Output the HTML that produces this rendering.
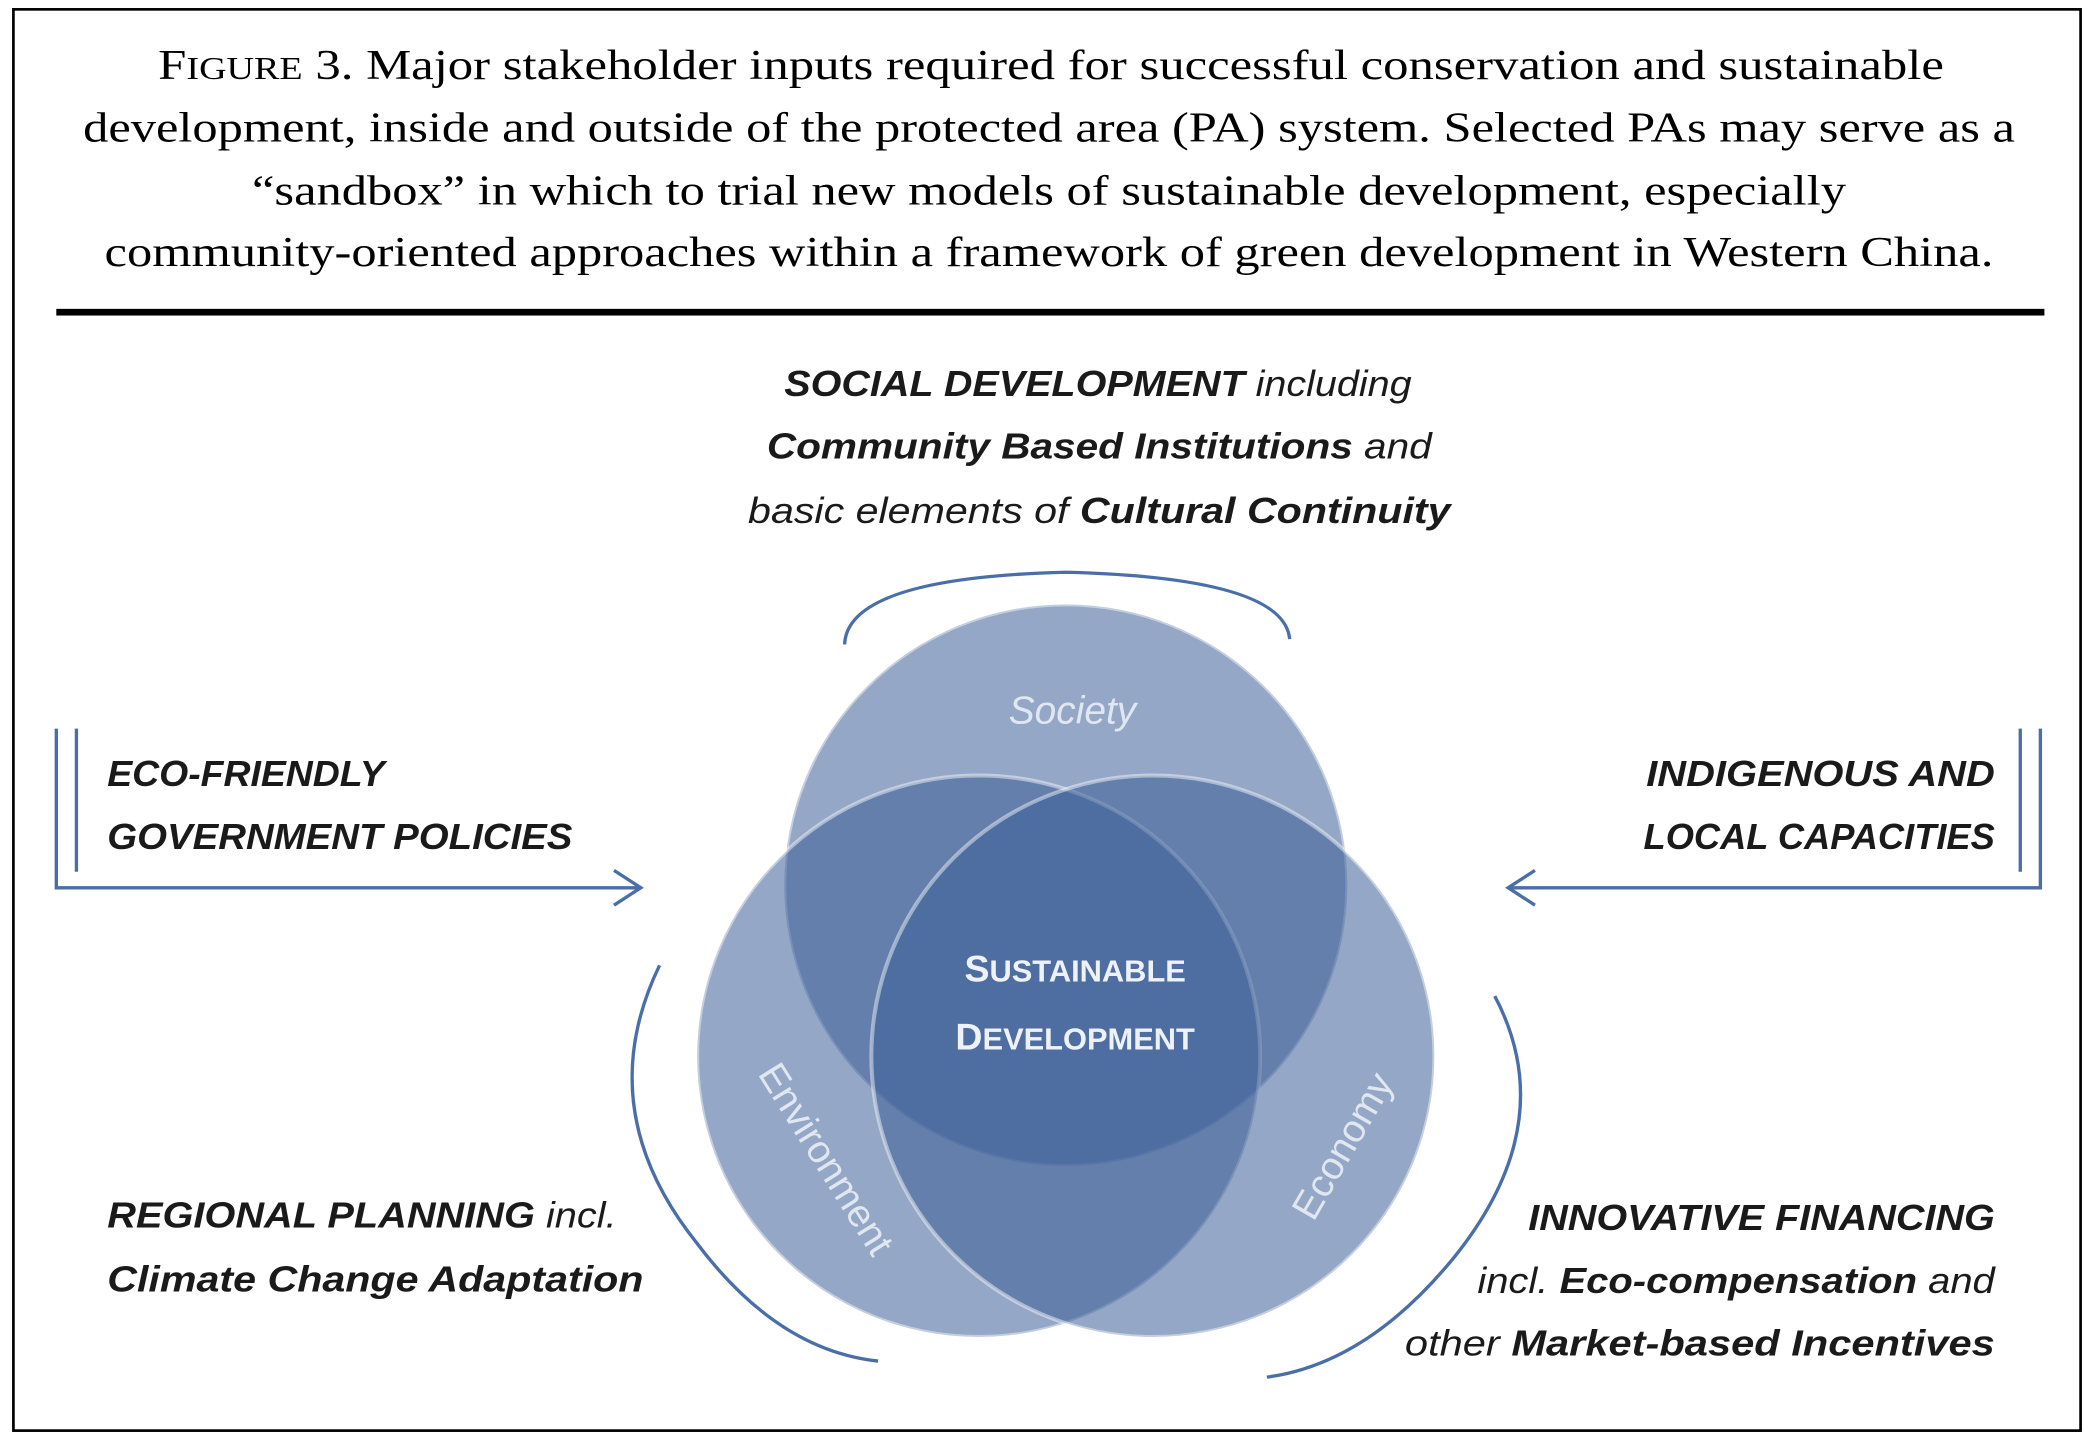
<!DOCTYPE html>
<html><head><meta charset="utf-8"><style>
html,body{margin:0;padding:0;background:#fff;}
svg{display:block;}
.c{font-family:"Liberation Serif",serif;font-size:32px;fill:#000;}
.t{font-family:"Liberation Sans",sans-serif;font-size:27px;font-style:italic;fill:#1a1a1a;}
.b{font-weight:bold;}
.n{font-weight:normal;}
</style></head><body>
<svg width="2094" height="1448" viewBox="0 0 1562 1083" preserveAspectRatio="none" xmlns="http://www.w3.org/2000/svg">
<rect x="0" y="0" width="1562" height="1083" fill="#fff"/>
<rect x="10" y="7" width="1542" height="1063" fill="none" stroke="#000" stroke-width="2"/>
<text class="c" x="118" y="59" textLength="1332" lengthAdjust="spacingAndGlyphs">F<tspan font-size="24">IGURE</tspan> 3.  Major stakeholder inputs required for successful conservation and sustainable</text>
<text class="c" x="62" y="106" textLength="1441" lengthAdjust="spacingAndGlyphs">development, inside and outside of the protected area (PA) system. Selected PAs may serve as a</text>
<text class="c" x="188" y="153" textLength="1189" lengthAdjust="spacingAndGlyphs">“sandbox” in which to trial new models of sustainable development, especially</text>
<text class="c" x="78" y="199" textLength="1409" lengthAdjust="spacingAndGlyphs">community-oriented approaches within a framework of green development in Western China.</text>
<rect x="42" y="231" width="1483" height="5" fill="#000"/>

<g fill="#3d5f98" fill-opacity="0.55" stroke="#ffffff" stroke-opacity="0.45" stroke-width="3">
<circle cx="795" cy="662" r="210"/>
<circle cx="730" cy="790" r="210"/>
<circle cx="860" cy="790" r="210"/>
</g>

<g fill="none" stroke="#4a6ea8" stroke-width="2.5">
<path d="M630,482 Q632,432 795,428 Q958,432 962,478"/>
<path d="M492,722 Q440,830 520,930 Q580,1010 655,1018"/>
<path d="M1115,745 Q1165,840 1085,940 Q1020,1020 945,1030"/>
<path d="M42,545 L42,664 L478,664"/>
<path d="M57,545 L57,652"/>
<path d="M458,651 L478,664 L458,677"/>
<path d="M1522,545 L1522,664 L1125,664"/>
<path d="M1507,545 L1507,652"/>
<path d="M1145,651 L1125,664 L1145,677"/>
</g>

<g font-family="Liberation Sans,sans-serif" fill="#eef2f8" text-anchor="middle">
<text x="800" y="541" font-size="29" font-style="italic" fill-opacity="0.85">Society</text>
<text x="802" y="734" font-size="28" font-weight="bold">S<tspan font-size="23">USTAINABLE</tspan></text>
<text x="802" y="785" font-size="28" font-weight="bold">D<tspan font-size="23">EVELOPMENT</tspan></text>
<text x="0" y="0" font-size="29" fill-opacity="0.85" transform="translate(608,872) rotate(58)">Environment</text>
<text x="0" y="0" font-size="29" fill-opacity="0.85" transform="translate(1010,862) rotate(-60)">Economy</text>
</g>

<text class="t b" x="585" y="296" textLength="468" lengthAdjust="spacingAndGlyphs">SOCIAL DEVELOPMENT <tspan class="n">including</tspan></text>
<text class="t b" x="572" y="343" textLength="496" lengthAdjust="spacingAndGlyphs">Community Based Institutions <tspan class="n">and</tspan></text>
<text class="t" x="558" y="391" textLength="524" lengthAdjust="spacingAndGlyphs">basic elements of <tspan class="b">Cultural Continuity</tspan></text>

<text class="t b" x="80" y="588" textLength="207" lengthAdjust="spacingAndGlyphs">ECO-FRIENDLY</text>
<text class="t b" x="80" y="635" textLength="347" lengthAdjust="spacingAndGlyphs">GOVERNMENT POLICIES</text>
<text class="t b" x="1228" y="588" textLength="260" lengthAdjust="spacingAndGlyphs">INDIGENOUS AND</text>
<text class="t b" x="1226" y="635" textLength="262" lengthAdjust="spacingAndGlyphs">LOCAL CAPACITIES</text>

<text class="t b" x="80" y="918" textLength="380" lengthAdjust="spacingAndGlyphs">REGIONAL PLANNING <tspan class="n">incl.</tspan></text>
<text class="t b" x="80" y="966" textLength="400" lengthAdjust="spacingAndGlyphs">Climate Change Adaptation</text>
<text class="t b" x="1140" y="920" textLength="348" lengthAdjust="spacingAndGlyphs">INNOVATIVE FINANCING</text>
<text class="t" x="1102" y="967" textLength="386" lengthAdjust="spacingAndGlyphs">incl. <tspan class="b">Eco-compensation</tspan> and</text>
<text class="t" x="1048" y="1014" textLength="440" lengthAdjust="spacingAndGlyphs">other <tspan class="b">Market-based Incentives</tspan></text>
</svg>
</body></html>
